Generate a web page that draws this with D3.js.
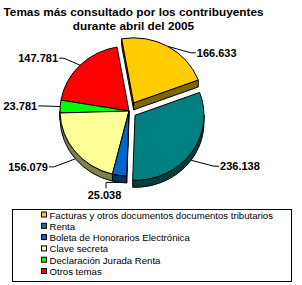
<!DOCTYPE html>
<html><head><meta charset="utf-8">
<script src="https://cdn.jsdelivr.net/npm/d3@7"></script>
<style>body{margin:0;background:#fff}svg{display:block}</style>
</head><body>
<svg id="chart" width="302" height="285"></svg>
<script>
// ---- data ----
const titleLines = ["Temas más consultado por los contribuyentes", "durante abril del 2005"];
const categories = [
  "Facturas y otros documentos documentos tributarios",
  "Renta",
  "Boleta de Honorarios Electrónica",
  "Clave secreta",
  "Declaración Jurada Renta",
  "Otros temas"
];
const values = [166633, 236138, 25038, 156079, 23781, 147781];

// ---- style ----
const topColors  = ["#FFCC00", "#008080", "#0066CC", "#FFFF99", "#00FF00", "#FF0000"];
const sideColors = ["#806600", "#004040", "#003366", "#80804C", "#008000", "#800000"];
const explode    = [9.4, 7.4, 0, 0, 0, 0];
// label leader end offsets relative to rim anchor, and mode
const labelLayout = [
  {dx: 28,   dy: 6.4, mode: "right"},
  {dx: 28,   dy: 6,   mode: "right"},
  {dx: -13.5,dy: 6,   mode: "down"},
  {dx: -26.4,dy: 8,   mode: "left"},
  {dx: -22,  dy: -0.6,mode: "left"},
  {dx: -21,  dy: -7,  mode: "left"}
];

const fmt = d3.formatLocale({decimal: ",", thousands: ".", grouping: [3], currency: ["", ""]}).format(",d");
const svg = d3.select("#chart");
const FONT = "'Liberation Sans', Arial, sans-serif";

// title
svg.append("g").selectAll("text").data(titleLines).join("text")
  .attr("x", 133.5).attr("y", (d, i) => 16 + i * 13.5)
  .attr("text-anchor", "middle")
  .attr("font-family", FONT).attr("font-weight", "bold").attr("font-size", "11.8px")
  .text(d => d);

// pie geometry
const cx = 129, cy = 111, rx = 69, ry = 65, depth = 7;
const deg = Math.PI / 180;
const pie = d3.pie().sort(null).startAngle(-10 * deg).endAngle(350 * deg);
const arcs = pie(values).map((a, i) => {
  const mid = (a.startAngle + a.endAngle) / 2;
  const ox = explode[i] * Math.sin(mid), oy = -explode[i] * Math.cos(mid);
  return {...a, i, mid, ox, oy};
});
const P = (a, d, dy = 0) => [cx + d.ox + rx * Math.sin(a), cy + d.oy - ry * Math.cos(a) + dy];
const fmtPt = p => p[0].toFixed(2) + "," + p[1].toFixed(2);

function topPath(d) {
  const c = [cx + d.ox, cy + d.oy];
  const large = (d.endAngle - d.startAngle) > Math.PI ? 1 : 0;
  return `M${fmtPt(c)}L${fmtPt(P(d.startAngle, d))}A${rx},${ry} 0 ${large} 1 ${fmtPt(P(d.endAngle, d))}Z`;
}
function outerWall(d) {
  const s = Math.max(d.startAngle, Math.PI / 2), e = Math.min(d.endAngle, 1.5 * Math.PI);
  if (e <= s) return null;
  const large = (e - s) > Math.PI ? 1 : 0;
  return `M${fmtPt(P(s, d))}A${rx},${ry} 0 ${large} 1 ${fmtPt(P(e, d))}L${fmtPt(P(e, d, depth))}A${rx},${ry} 0 ${large} 0 ${fmtPt(P(s, d, depth))}Z`;
}
function cutWall(d, a) {
  const c = [cx + d.ox, cy + d.oy];
  const c2 = [c[0], c[1] + depth];
  return `M${fmtPt(c)}L${fmtPt(P(a, d))}L${fmtPt(P(a, d, depth))}L${fmtPt(c2)}Z`;
}

const n = arcs.length;
const order = arcs.slice().sort((a, b) => (-Math.cos(a.mid)) - (-Math.cos(b.mid)));
const gPie = svg.append("g");
order.forEach(d => {
  const g = gPie.append("g");
  const prevExp = explode[(d.i - 1 + n) % n] > 0, nextExp = explode[(d.i + 1) % n] > 0, selfExp = explode[d.i] > 0;
  if ((selfExp || prevExp) && Math.sin(d.startAngle) < 0)
    g.append("path").attr("d", cutWall(d, d.startAngle)).attr("fill", sideColors[d.i]).attr("stroke", "#000").attr("stroke-width", 1).attr("stroke-linejoin", "round");
  if ((selfExp || nextExp) && Math.sin(d.endAngle) > 0)
    g.append("path").attr("d", cutWall(d, d.endAngle)).attr("fill", sideColors[d.i]).attr("stroke", "#000").attr("stroke-width", 1).attr("stroke-linejoin", "round");
  const w = outerWall(d);
  if (w) g.append("path").attr("d", w).attr("fill", sideColors[d.i]).attr("stroke", "#000").attr("stroke-width", 1);
  g.append("path").attr("d", topPath(d)).attr("fill", topColors[d.i]).attr("stroke", "#000").attr("stroke-width", 1).attr("stroke-linejoin", "round");
});

// labels + leaders
const gLab = svg.append("g");
arcs.forEach(d => {
  const L = labelLayout[d.i];
  const r = P(d.mid, d, Math.cos(d.mid) < 0 ? depth : 0);
  const end = [r[0] + L.dx, r[1] + L.dy];
  let pts, tx, ty, anchor;
  if (L.mode === "down") {
    pts = [r, [end[0], r[1]], end];
    tx = end[0] - 1.5; ty = end[1] + 11; anchor = "middle";
  } else {
    const s = L.mode === "right" ? 1 : -1;
    pts = [r, [end[0] - 5 * s, end[1]], end];
    tx = end[0] + s; ty = end[1] + 4; anchor = s > 0 ? "start" : "end";
  }
  gLab.append("path").attr("d", d3.line()(pts)).attr("fill", "none").attr("stroke", "#000").attr("stroke-width", 1);
  gLab.append("text").attr("x", tx).attr("y", ty).attr("text-anchor", anchor)
    .attr("font-family", FONT).attr("font-weight", "bold").attr("font-size", "11px")
    .text(fmt(values[d.i]));
});

// legend
const lg = svg.append("g");
lg.append("rect").attr("x", 12.5).attr("y", 209.5).attr("width", 279).attr("height", 72)
  .attr("fill", "#fff").attr("stroke", "#000").attr("stroke-width", 1);
const rowY = i => 215 + i * 11.3;
lg.selectAll("rect.sw").data(categories).join("rect").attr("class", "sw")
  .attr("x", 41.5).attr("y", (d, i) => rowY(i) - 3).attr("width", 5).attr("height", 5)
  .attr("fill", (d, i) => topColors[i]).attr("stroke", "#000").attr("stroke-width", 1);
lg.selectAll("text").data(categories).join("text")
  .attr("x", 49.5).attr("y", (d, i) => rowY(i) + 3.5)
  .attr("font-family", FONT).attr("font-size", "9.6px")
  .text(d => d);
</script>
</body></html>
